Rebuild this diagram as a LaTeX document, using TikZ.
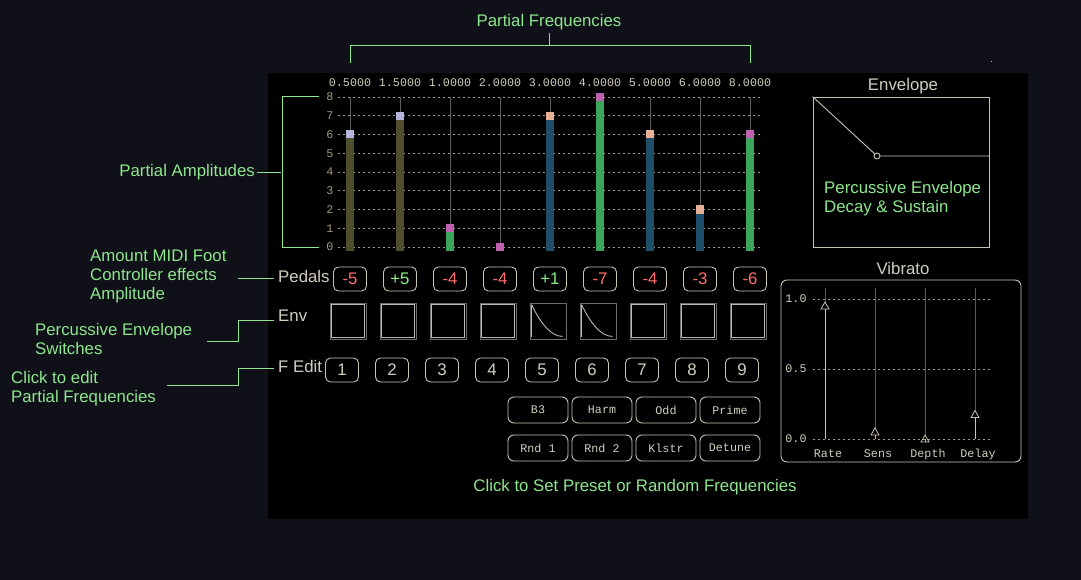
\documentclass[tikz,border=0pt]{standalone}
\usepackage{fontspec}
\setmainfont{Liberation Sans}
\setmonofont{Liberation Mono}
\usetikzlibrary{positioning,calc}
\definecolor{uibg}{HTML}{101018}
\definecolor{uinote}{HTML}{8EE68E}
\definecolor{uitext}{HTML}{D2CEBE}
\definecolor{uiline}{HTML}{C8C4B0}
\definecolor{uiaxis}{HTML}{A49C78}
\definecolor{uistem}{HTML}{5C5C5C}
\definecolor{olivebar}{HTML}{4E4E2E}
\definecolor{greenbar}{HTML}{3CA35A}
\definecolor{bluebar}{HTML}{1E4E6A}
\definecolor{lavcap}{HTML}{B4B4DC}
\definecolor{magcap}{HTML}{C060B0}
\definecolor{peachcap}{HTML}{E8B094}
\definecolor{minus}{HTML}{FF6E6E}
\definecolor{plus}{HTML}{86F086}

\begin{document}
\begin{tikzpicture}[x=1pt,y=-1pt,
    note/.style={text=uinote,font=\fontsize{16.8}{19}\selectfont,align=left,inner sep=2pt},
    rowname/.style={text=uitext,font=\fontsize{16.8}{19}\selectfont,anchor=west,inner sep=4pt},
    mono/.style={text=uitext,font=\ttfamily\fontsize{11.7}{13}\selectfont,inner sep=1pt},
    noteline/.style={draw=uinote,line width=1pt},
    gridline/.style={draw=uiaxis,dash pattern=on 1.5pt off 3.5pt,line width=0.8pt},
    padkey/.style={draw=uiline,rounded corners=5pt,minimum width=33pt,minimum height=24pt,inner sep=0pt,line width=0.9pt,font=\fontsize{16.8}{19}\selectfont,text=uitext},
    presetkey/.style={mono,draw=uiline,rounded corners=6pt,minimum width=60pt,minimum height=26pt,inner sep=0pt,line width=0.9pt},
    envbox/.style={draw=gray!85!black,minimum width=36pt,minimum height=36pt,inner sep=0pt,line width=0.9pt},
    envlight/.style={draw=gray!55!white,line width=0.9pt}]
    \useasboundingbox (0,0) rectangle (1081,580);
    \fill[uibg] (0,0) rectangle (1081,580);
    \fill[black] (268,73) rectangle (1028,519);
    \fill[uinote] (990.5,61.5) rectangle (991.5,62.5);

    \node[note] (freqtitle) at (549,22.5) {Partial Frequencies};
    \foreach \f [count=\i] in {0.5000,1.5000,1.0000,2.0000,3.0000,4.0000,5.0000,6.0000,8.0000}
        \node[mono] (freq\i) at (300+50*\i,83) {\f};
    \draw[noteline] (freqtitle.south) -- ++(0,12.5) coordinate (fmid);
    \draw[noteline] ([yshift=15]freq1.north) |- (fmid) -| ([yshift=15]freq9.north);

    \foreach \k in {0,...,8} {
        \draw[gridline] (338,247-18.75*\k) -- (760,247-18.75*\k);
        \node[mono,text=uiaxis] (amp\k) at (330,247-18.75*\k) {\k};
    }
    \foreach \v/\barc/\capc [count=\i] in {6/olivebar/lavcap,7/olivebar/lavcap,1/greenbar/magcap,0/greenbar/magcap,7/bluebar/peachcap,8/greenbar/magcap,6/bluebar/peachcap,2/bluebar/peachcap,6/greenbar/magcap} {
        \pgfmathsetmacro\bx{300+50*\i}
        \pgfmathsetmacro\by{247-18.75*\v}
        \draw[uistem,line width=0.9pt] (\bx,97) -- (\bx,\by);
        \fill[\barc] (\bx-4,\by) rectangle (\bx+4,251);
        \fill[\capc] (\bx-4,\by-4) rectangle (\bx+4,\by+4);
    }
    \node[note,anchor=east] (ampnote) at (257,172.5) {Partial Amplitudes};
    \draw[noteline] ([xshift=-6]amp8.west) -| ([xshift=-43]amp0.west) -- ([xshift=-6]amp0.west);
    \draw[noteline] (ampnote.east) -- ++(24,0);

    \node[rowname] (pedals) at (274,276) {Pedals};
    \node[rowname] (envrow) at (274,316) {Env};
    \node[rowname] (fedit) at (274,366.5) {F Edit};
    \foreach \p/\c [count=\i] in {-5/minus,+5/plus,-4/minus,-4/minus,+1/plus,-7/minus,-4/minus,-3/minus,-6/minus}
        \node[padkey,text=\c] (ped\i) at (300+50*\i,279) {\p};
    \foreach \i in {1,...,9} {
        \node[envbox] (env\i) at (298+50*\i,321) {};
        \node[padkey] (fed\i) at (292+50*\i,370) {\i};
    }
    \foreach \i in {1,2,3,4,7,8,9}
        \draw[envlight] ($(env\i.north west)+(2,2)$) rectangle ($(env\i.south east)+(-2,-2)$);
    \foreach \i in {5,6} {
        \draw[envlight] ($(env\i.north west)+(2,2)$) -- ($(env\i.south west)+(2,-2)$);
        \draw[envlight] ($(env\i.north west)+(2,2)$) .. controls +(8,17) and +(-12,0) .. ($(env\i.south east)+(-4,-3)$);
    }

    \node[note,anchor=north west] (footnote) at (88,248) {Amount MIDI Foot\\Controller effects\\Amplitude};
    \node[note,anchor=north west] (percnote) at (33,321) {Percussive Envelope\\Switches};
    \node[note,anchor=north west] (clicknote) at (9,369) {Click to edit\\Partial Frequencies};
    \draw[noteline] ([yshift=-2]pedals.west) -- ++(-36,0);
    \draw[noteline] ([yshift=-4]envrow.west) -- ++(-36,0) |- ++(-31,21);
    \draw[noteline] ([yshift=-1.5]fedit.west) -- ++(-36,0) |- ++(-71,17);

    \foreach \t [count=\i] in {B3,Harm,Odd,Prime}
        \node[presetkey] (pre\i) at (474+64*\i,410) {\t};
    \foreach \t [count=\i] in {Rnd 1,Rnd 2,Klstr,Detune}
        \node[presetkey] (rnd\i) at (474+64*\i,448) {\t};
    \node[note] (presetnote) at (635,487.5) {Click to Set Preset or Random Frequencies};

    \node[rowname,anchor=center] (envtitle) at (903,86) {Envelope};
    \node[draw=uiline,minimum width=176pt,minimum height=150pt,inner sep=0pt,line width=0.9pt] (envplot) at (901,172) {};
    \coordinate (decayend) at (877,156);
    \draw[uiline,line width=0.9pt] (envplot.north west) -- (decayend) -- (envplot.east |- decayend);
    \draw[uiline,fill=black,line width=0.9pt] (decayend) circle (3pt);
    \node[note,anchor=north west] (envnote) at (822,179) {Percussive Envelope\\Decay \& Sustain};

    \node[rowname,anchor=center] (vibtitle) at (903,268) {Vibrato};
    \node[draw=uiline,rounded corners=6pt,minimum width=240pt,minimum height=182pt,line width=0.9pt] (vibplot) at (901,371) {};
    \foreach \s/\y in {1.0/299,0.5/369,0.0/439} {
        \draw[gridline] (813,\y) -- (990,\y);
        \node[mono] (vtick\y) at (796,\y) {\s};
    }
    \foreach \n/\v [count=\i] in {Rate/0.95,Sens/0.05,Depth/0,Delay/0.175} {
        \pgfmathsetmacro\sx{775+50*\i}
        \pgfmathsetmacro\sy{439-140*\v}
        \draw[gray!70!black,line width=0.9pt] (\sx,288) -- (\sx,\sy-4);
        \draw[uiline,line width=0.9pt] (\sx,\sy+3) -- (\sx,439);
        \draw[uiline,line width=0.8pt] (\sx,\sy-4) -- (\sx+4,\sy+3) -- (\sx-4,\sy+3) -- cycle;
        \node[mono,anchor=base] (vib\n) at (\sx+3,457) {\n};
    }
\end{tikzpicture}
\end{document}
